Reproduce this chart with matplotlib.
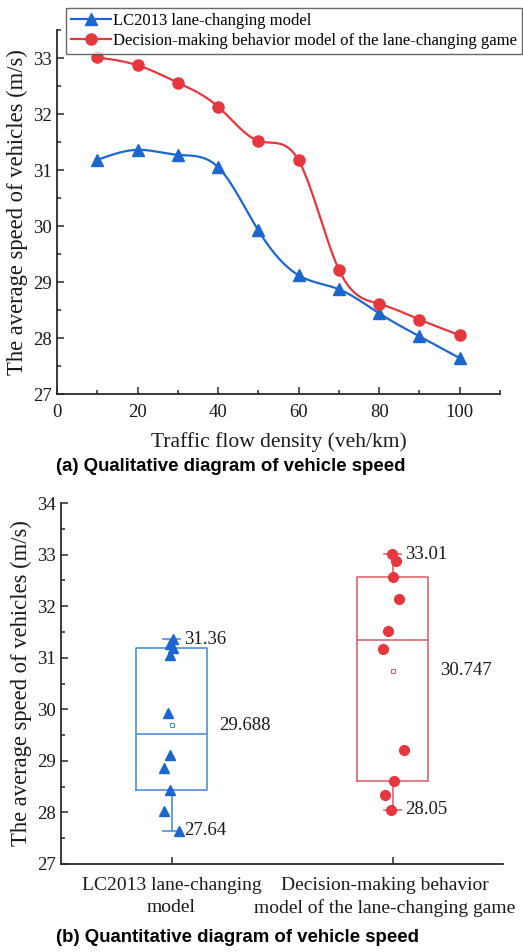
import numpy as np
import matplotlib
matplotlib.use("Agg")
import matplotlib.pyplot as plt
from matplotlib.lines import Line2D
from matplotlib import transforms

# ---- data -------------------------------------------------------------
density = [10, 20, 30, 40, 50, 60, 70, 80, 90, 100]
lc2013_speed = [31.18, 31.36, 31.27, 31.05, 29.92, 29.12, 28.87, 28.44, 28.03, 27.64]
game_speed = [33.01, 32.87, 32.56, 32.13, 31.52, 31.17, 29.22, 28.61, 28.33, 28.05]

series_names = ["LC2013 lane-changing model",
                "Decision-making behavior model of the lane-changing game"]
box_labels = ["LC2013 lane-changing\nmodel",
              "Decision-making behavior\nmodel of the lane-changing game"]

# horizontal scatter spread of the raw points inside each box (category units)
lc2013_spread = [0.005, 0.005, -0.007, -0.009, -0.018, -0.005, -0.032, -0.009, -0.032, 0.034]
game_spread = [-0.003, 0.017, 0.003, 0.029, -0.021, -0.044, 0.051, 0.006, -0.036, -0.008]

BLUE = "#1c67cf"
RED = "#e5373d"
BLUE_BOX = "#4e8fd8"
RED_BOX = "#d8676c"
AXIS = "#2b2b2b"
INK = "#1a1a1a"

SERIF = ["Liberation Serif", "DejaVu Serif"]
SANS = ["Liberation Sans", "DejaVu Sans"]
plt.rcParams["font.family"] = SERIF


def natural_spline(x, y, n=400):
    """Smooth connecting curve through the points (natural cubic spline)."""
    x = np.asarray(x, float)
    y = np.asarray(y, float)
    m = len(x)
    h = np.diff(x)
    A = np.zeros((m, m))
    r = np.zeros(m)
    A[0, 0] = A[-1, -1] = 1.0
    for i in range(1, m - 1):
        A[i, i - 1] = h[i - 1]
        A[i, i] = 2 * (h[i - 1] + h[i])
        A[i, i + 1] = h[i]
        r[i] = 6 * ((y[i + 1] - y[i]) / h[i] - (y[i] - y[i - 1]) / h[i - 1])
    M = np.linalg.solve(A, r)
    xs = np.linspace(x[0], x[-1], n)
    idx = np.clip(np.searchsorted(x, xs) - 1, 0, m - 2)
    x0, x1 = x[idx], x[idx + 1]
    hh = x1 - x0
    a = (x1 - xs) / hh
    b = (xs - x0) / hh
    ys = a * y[idx] + b * y[idx + 1] + ((a ** 3 - a) * M[idx] + (b ** 3 - b) * M[idx + 1]) * hh ** 2 / 6
    return xs, ys


def box_stats(values):
    s = np.sort(np.asarray(values, float))
    n = len(s)
    lower = s[: (n + 1) // 2]
    upper = s[n // 2:]
    return dict(med=float(np.median(s)), q1=float(np.median(lower)),
                q3=float(np.median(upper)), whislo=float(s[0]),
                whishi=float(s[-1]), mean=float(np.mean(s)), fliers=[])


def style_axes(ax):
    for side in ("top", "right"):
        ax.spines[side].set_visible(False)
    for side in ("left", "bottom"):
        ax.spines[side].set_color(AXIS)
        ax.spines[side].set_linewidth(1.3)
    ax.tick_params(which="both", direction="in", colors=AXIS, labelcolor=INK,
                   labelsize=13.5, width=1.1)
    ax.tick_params(which="major", length=5)
    ax.tick_params(which="minor", length=3)


W, H = 523, 952
fig = plt.figure(figsize=(W / 100, H / 100), dpi=100)

# ---- (a) speed vs. density -------------------------------------------
ax1 = fig.add_axes([57 / W, 1 - 394 / H, (500 - 57) / W, (394 - 30) / H])
style_axes(ax1)
for speeds, color, marker, ms in ((lc2013_speed, BLUE, "^", 9),
                                  (game_speed, RED, "o", 8)):
    xs, ys = natural_spline(density, speeds)
    ax1.plot(xs, ys, color=color, lw=1.6, zorder=2)
    ax1.plot(density, speeds, ls="none", marker=marker, ms=ms, color=color, zorder=3)

ax1.set_xlim(0, 110)
ax1.set_ylim(27, 33.5)
ax1.set_xticks(range(0, 101, 20))
ax1.set_xticks(range(10, 111, 20), minor=True)
ax1.set_yticks(range(27, 34))
ax1.set_yticks(np.arange(27.5, 33.6, 1.0), minor=True)
ax1.tick_params(axis="x", which="major", pad=7)
ax1.set_xlabel("Traffic flow density (veh/km)", fontsize=15.5, color=INK, labelpad=8)
ax1.set_ylabel("The average speed of vehicles (m/s)", fontsize=16.3, color=INK, labelpad=4)

handles = [Line2D([], [], color=BLUE, lw=1.6, marker="^", ms=9),
           Line2D([], [], color=RED, lw=1.6, marker="o", ms=8)]
leg = fig.legend(handles, series_names, loc="upper left",
                 bbox_to_anchor=(66 / W, 1 - 8 / H), fontsize=12.0,
                 frameon=True, fancybox=False, edgecolor="#444444",
                 handlelength=2.4, handletextpad=0.12, labelspacing=0.24,
                 borderpad=0.3, borderaxespad=0)
leg.get_frame().set_linewidth(1.0)

fig.text(56 / W, 1 - 466 / H, "(a) Qualitative diagram of vehicle speed",
         family=SANS, weight="bold", fontsize=13.4, va="center", ha="left")

# ---- (b) box plots ----------------------------------------------------
ax2 = fig.add_axes([61 / W, 1 - 864 / H, (503 - 61) / W, (864 - 503) / H])
style_axes(ax2)
positions = [1, 2]
stats = [box_stats(lc2013_speed), box_stats(game_speed)]
box_width = 0.32
cap_width = 0.075

for pos, st, speeds, spread, color, box_color, marker, ms in (
        (1, stats[0], lc2013_speed, lc2013_spread, BLUE, BLUE_BOX, "^", 7.5),
        (2, stats[1], game_speed, game_spread, RED, RED_BOX, "o", 7)):
    ax2.bxp([st], positions=[pos], widths=box_width, capwidths=[cap_width],
            showmeans=True, showfliers=False, patch_artist=False,
            boxprops=dict(color=box_color, lw=1.2),
            whiskerprops=dict(color=box_color, lw=1.2),
            capprops=dict(color=box_color, lw=1.2),
            medianprops=dict(color=box_color, lw=1.2),
            meanprops=dict(marker="s", ms=3.2, mfc="white", mec=box_color, mew=0.8))
    ax2.plot(np.add(pos, spread), speeds, ls="none", marker=marker, ms=ms,
             color=color, zorder=4)

    shift = transforms.offset_copy(ax2.transData, fig=fig, x=3, y=0, units="points")
    ax2.text(pos + cap_width / 2, st["whishi"], f"{st['whishi']:.2f}", transform=shift,
             fontsize=13.5, va="center", ha="left", color=INK)
    ax2.text(pos + cap_width / 2, st["whislo"], f"{st['whislo']:.2f}", transform=shift,
             fontsize=13.5, va="center", ha="left", color=INK)
    shift_m = transforms.offset_copy(ax2.transData, fig=fig, x=9, y=0, units="points")
    ax2.text(pos + box_width / 2, st["mean"], f"{st['mean']:.3f}", transform=shift_m,
             fontsize=13.5, va="center", ha="left", color=INK)

ax2.set_xlim(0.5, 2.5)
ax2.set_ylim(27, 34)
ax2.set_xticks(positions)
ax2.set_xticklabels(box_labels, fontsize=14, linespacing=1.4)
ax2.set_yticks(range(27, 35))
ax2.set_yticks(np.arange(27.5, 34, 1.0), minor=True)
ax2.tick_params(axis="x", which="major", pad=9)
lbl = ax2.get_xticklabels()[1]
lbl.set_transform(lbl.get_transform() + transforms.ScaledTranslation(-8 / 100, 0, fig.dpi_scale_trans))
ax2.set_ylabel("The average speed of vehicles (m/s)", fontsize=16.3, color=INK, labelpad=4)

fig.text(56 / W, 1 - 937 / H, "(b) Quantitative diagram of vehicle speed",
         family=SANS, weight="bold", fontsize=13.4, va="center", ha="left")

fig.savefig("out.png", dpi=100)
